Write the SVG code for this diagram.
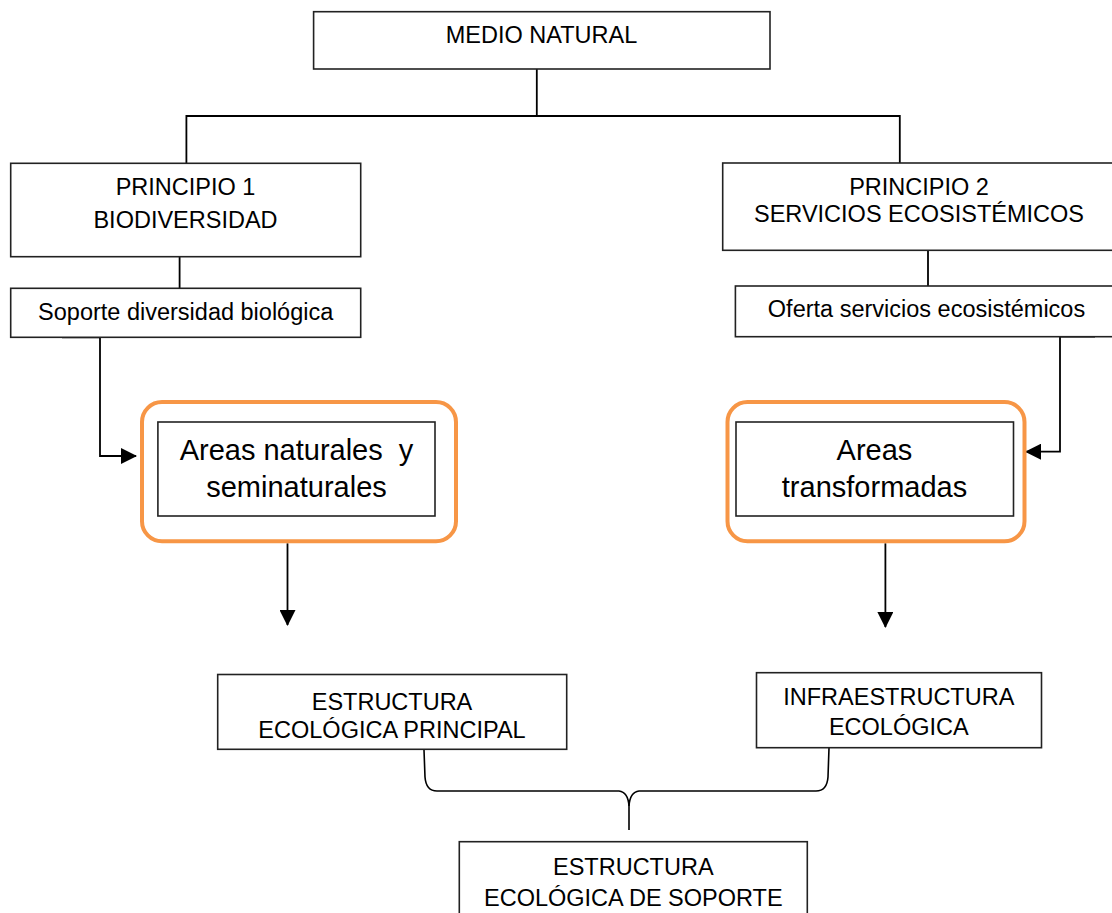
<svg xmlns="http://www.w3.org/2000/svg" width="1112" height="913" viewBox="0 0 1112 913">
<style>
.box{fill:#fff;stroke:#222;stroke-width:1.6}
.hl{fill:none;stroke:#F79646;stroke-width:4}
.t{font-family:"Liberation Sans",Arial,sans-serif;font-size:23.5px;fill:#000;text-anchor:middle}
.tb{font-family:"Liberation Sans",Arial,sans-serif;font-size:29px;fill:#000;text-anchor:middle;white-space:pre}
.ln{fill:none;stroke:#000;stroke-width:1.8}
.br{fill:none;stroke:#000;stroke-width:1.6}
</style>
<defs>
<marker id="ah" markerWidth="16" markerHeight="16" refX="15" refY="8" orient="auto" markerUnits="userSpaceOnUse">
<path d="M0,0 L16,8 L0,16 Z" fill="#000"/>
</marker>
</defs>
<rect width="1112" height="913" fill="#fff"/>
<g id="connectors">
<path class="ln" d="M536.8,69 V116"/>
<path class="ln" d="M186.4,163.3 V116 H899.8 V163.3"/>
<path class="ln" d="M179.6,256.7 V288.3"/>
<path class="ln" d="M928,250.3 V286"/>
<path class="ln" d="M62,337.3 H100 V456 H136" marker-end="url(#ah)" stroke-width="2"/>
<path class="ln" d="M1095,336.7 H1060 V451.7 H1026" marker-end="url(#ah)" stroke-width="2"/>
<path class="ln" d="M287.5,543.3 V625" marker-end="url(#ah)"/>
<path class="ln" d="M885.4,543.3 V627" marker-end="url(#ah)"/>
<path class="br" d="M424,750 L425,777 Q426,791 437,791 L619,791 Q628,792 629,806 L629,830"/>
<path class="br" d="M829,748 L828,777 Q827,791 816,791 L639,791 Q630,792 629,806"/>
</g>
<g id="medio-natural">
<rect class="box" x="313.6" y="11.7" width="456.4" height="57.3"/>
<text class="t" x="541.5" y="43.3">MEDIO NATURAL</text>
</g>
<g id="principio-1">
<rect class="box" x="10.7" y="163.3" width="350" height="93.4"/>
<text class="t" x="185.5" y="195">PRINCIPIO 1</text>
<text class="t" x="185.5" y="227.7">BIODIVERSIDAD</text>
</g>
<g id="soporte">
<rect class="box" x="10.7" y="288.3" width="350" height="49"/>
<text class="t" x="185.7" y="320">Soporte diversidad biológica</text>
</g>
<g id="principio-2">
<rect class="box" x="722.7" y="163" width="400" height="87.3"/>
<text class="t" x="919" y="195">PRINCIPIO 2</text>
<text class="t" x="919" y="221.7">SERVICIOS ECOSISTÉMICOS</text>
</g>
<g id="oferta">
<rect class="box" x="735.4" y="286" width="400" height="50.7"/>
<text class="t" x="926.5" y="316.7">Oferta servicios ecosistémicos</text>
</g>
<g id="areas-naturales">
<rect class="hl" x="142" y="402" width="314" height="139.3" rx="20"/>
<rect class="box" x="157.9" y="422" width="277.1" height="94"/>
<text class="tb" x="296.5" y="460">Areas naturales  y</text>
<text class="tb" x="296.5" y="496.7">seminaturales</text>
</g>
<g id="areas-transformadas">
<rect class="hl" x="727.5" y="402" width="297" height="139.3" rx="20"/>
<rect class="box" x="736" y="422" width="277.5" height="94"/>
<text class="tb" x="874.5" y="460">Areas</text>
<text class="tb" x="874.5" y="496.7">transformadas</text>
</g>
<g id="eep">
<rect class="box" x="217.7" y="674.5" width="349" height="74.8"/>
<text class="t" x="392" y="710">ESTRUCTURA</text>
<text class="t" x="392" y="738.3">ECOLÓGICA PRINCIPAL</text>
</g>
<g id="infraestructura">
<rect class="box" x="756.5" y="672.7" width="285" height="75"/>
<text class="t" x="898.8" y="705">INFRAESTRUCTURA</text>
<text class="t" x="898.8" y="735">ECOLÓGICA</text>
</g>
<g id="eeds">
<rect class="box" x="459.3" y="841.7" width="348" height="100"/>
<text class="t" x="633.3" y="875">ESTRUCTURA</text>
<text class="t" x="633.3" y="905.7">ECOLÓGICA DE SOPORTE</text>
</g>
</svg>
